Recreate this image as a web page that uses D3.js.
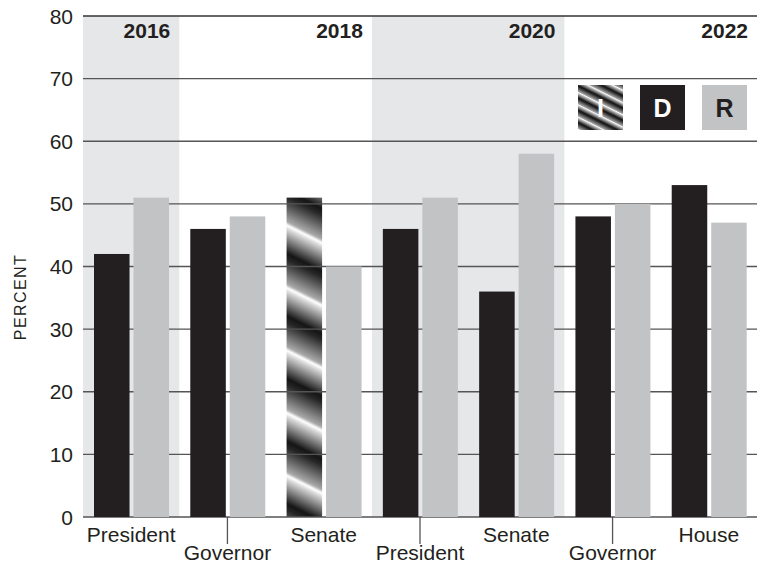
<!DOCTYPE html>
<html>
<head>
<meta charset="utf-8">
<script src="https://cdn.jsdelivr.net/npm/d3@7"></script>
<style>
  body { margin: 0; background: #fff; }
  text { font-family: "Liberation Sans", Arial, sans-serif; }
</style>
</head>
<body>
<div id="chart"></div>
<script>
// chart values
var categories = ["President", "Governor", "Senate", "President", "Senate", "Governor", "House"];
var years = ["2016", "2018", "2018", "2020", "2020", "2022", "2022"];
var firstParty = ["D", "D", "I", "D", "D", "D", "D"];
var firstValues = [42, 46, 51, 46, 36, 48, 53];
var rValues = [51, 48, 40, 51, 58, 50, 47];
var yTicks = [0, 10, 20, 30, 40, 50, 60, 70, 80];
var parties = ["I", "D", "R"];

var svgWidth = 765;
var svgHeight = 565;

var margin = { top: 16, right: 8, bottom: 48, left: 83 };
var width = svgWidth - margin.left - margin.right;
var height = svgHeight - margin.top - margin.bottom;

var svg = d3.select("#chart")
  .append("svg")
  .attr("width", svgWidth)
  .attr("height", svgHeight);

var chartGroup = svg.append("g")
  .attr("transform", `translate(${margin.left}, ${margin.top})`);

var dark = "#231f20";
var light = "#c2c3c5";

// gradients for the striped "I" fill
var defs = svg.append("defs");
function stripeGradient(id, x, y, period) {
  // stripes run down to the right, gradient goes across them
  var g = defs.append("linearGradient")
    .attr("id", id)
    .attr("gradientUnits", "userSpaceOnUse")
    .attr("spreadMethod", "repeat")
    .attr("x1", x).attr("y1", y)
    .attr("x2", x - 0.447 * period).attr("y2", y + 0.894 * period);
  [[0, "#ffffff"], [0.06, "#d8d8d8"], [0.45, "#151515"], [0.55, "#262626"], [0.94, "#a8a8a8"], [1, "#ffffff"]]
    .forEach(function(s) {
      g.append("stop").attr("offset", s[0]).attr("stop-color", s[1]);
    });
}

// scales
var x0 = d3.scaleBand()
  .domain(d3.range(categories.length))
  .range([0, width]);

var x1 = d3.scaleBand()
  .domain(["a", "b"])
  .range([11, 86])
  .paddingInner(0.1);

var yLinearScale = d3.scaleLinear()
  .domain([0, 80])
  .range([height, 0]);

// shaded year sections
var yearList = Array.from(new Set(years));
var spans = yearList.map(function(yr, i) {
  var idx = d3.range(years.length).filter(j => years[j] === yr);
  return {
    year: yr,
    x: x0(idx[0]),
    end: x0(idx[idx.length - 1]) + x0.step(),
    shaded: i % 2 === 0
  };
});

chartGroup.selectAll(".shade")
  .data(spans.filter(d => d.shaded))
  .enter()
  .append("rect")
  .attr("x", d => d.x)
  .attr("y", 0)
  .attr("width", d => d.end - d.x)
  .attr("height", height)
  .attr("fill", "#e6e7e9");

// striped bars first so the gridlines show over them
var firstBars = d3.range(categories.length).map(i => ({
  i: i, party: firstParty[i], value: firstValues[i]
}));

firstBars.filter(d => d.party === "I").forEach(function(d) {
  var bx = x0(d.i) + x1("a");
  stripeGradient("stripeBar" + d.i, bx + 30, yLinearScale(d.value) - 20, 56);
  chartGroup.append("rect")
    .attr("x", bx)
    .attr("y", yLinearScale(d.value))
    .attr("width", x1.bandwidth())
    .attr("height", height - yLinearScale(d.value))
    .attr("fill", "url(#stripeBar" + d.i + ")");
});

// gridlines
chartGroup.selectAll(".grid")
  .data(yTicks)
  .enter()
  .append("line")
  .attr("x1", 0)
  .attr("x2", width)
  .attr("y1", d => yLinearScale(d))
  .attr("y2", d => yLinearScale(d))
  .attr("stroke", d => d === 80 ? "#333" : "#555")
  .attr("stroke-width", 1.3);

// D bars
chartGroup.selectAll(".barD")
  .data(firstBars.filter(d => d.party !== "I"))
  .enter()
  .append("rect")
  .attr("x", d => x0(d.i) + x1("a"))
  .attr("y", d => yLinearScale(d.value))
  .attr("width", x1.bandwidth())
  .attr("height", d => height - yLinearScale(d.value))
  .attr("fill", dark);

// R bars
chartGroup.selectAll(".barR")
  .data(rValues)
  .enter()
  .append("rect")
  .attr("x", (d, i) => x0(i) + x1("b"))
  .attr("y", d => yLinearScale(d))
  .attr("width", x1.bandwidth())
  .attr("height", d => height - yLinearScale(d))
  .attr("fill", light);

// y tick labels
chartGroup.selectAll(".ytick")
  .data(yTicks)
  .enter()
  .append("text")
  .attr("x", -10)
  .attr("y", d => yLinearScale(d))
  .attr("dy", "0.36em")
  .attr("text-anchor", "end")
  .attr("font-size", 21)
  .attr("fill", "#231f20")
  .text(d => d);

// y axis title
svg.append("text")
  .attr("transform", "translate(26, 297) rotate(-90)")
  .attr("text-anchor", "middle")
  .attr("font-size", 16)
  .attr("letter-spacing", 1.4)
  .attr("fill", "#231f20")
  .text("PERCENT");

// year labels
chartGroup.selectAll(".year")
  .data(spans)
  .enter()
  .append("text")
  .attr("x", d => d.end - 9)
  .attr("y", 22)
  .attr("text-anchor", "end")
  .attr("font-size", 21)
  .attr("font-weight", "bold")
  .attr("fill", "#231f20")
  .text(d => d.year);

// category labels, staggered on two rows
var catGroup = chartGroup.selectAll(".cat")
  .data(categories)
  .enter()
  .append("g")
  .attr("transform", (d, i) => `translate(${x0(i) + x0.bandwidth() / 2}, ${height})`);

catGroup.filter((d, i) => i % 2 === 1)
  .append("line")
  .attr("y1", 0)
  .attr("y2", 27)
  .attr("stroke", "#555")
  .attr("stroke-width", 1.3);

catGroup.append("text")
  .attr("y", (d, i) => i % 2 === 0 ? 25 : 43)
  .attr("text-anchor", "middle")
  .attr("font-size", 21)
  .attr("fill", "#231f20")
  .text(d => d);

// legend
var legendScale = d3.scaleBand()
  .domain(parties)
  .range([578, 747])
  .paddingInner(0.274);

stripeGradient("stripeLegend", legendScale("I") + 20, 85, 11);

var legend = svg.selectAll(".legend")
  .data(parties)
  .enter()
  .append("g")
  .attr("transform", d => `translate(${legendScale(d)}, 85)`);

legend.append("rect")
  .attr("width", legendScale.bandwidth())
  .attr("height", legendScale.bandwidth())
  .attr("fill", d => d === "I" ? "url(#stripeLegend)" : d === "D" ? dark : light);

legend.append("text")
  .attr("x", legendScale.bandwidth() / 2)
  .attr("y", legendScale.bandwidth() / 2 + 9)
  .attr("text-anchor", "middle")
  .attr("font-size", 25)
  .attr("font-weight", "bold")
  .attr("fill", d => d === "R" ? dark : "#fff")
  .text(d => d);
</script>
</body>
</html>
